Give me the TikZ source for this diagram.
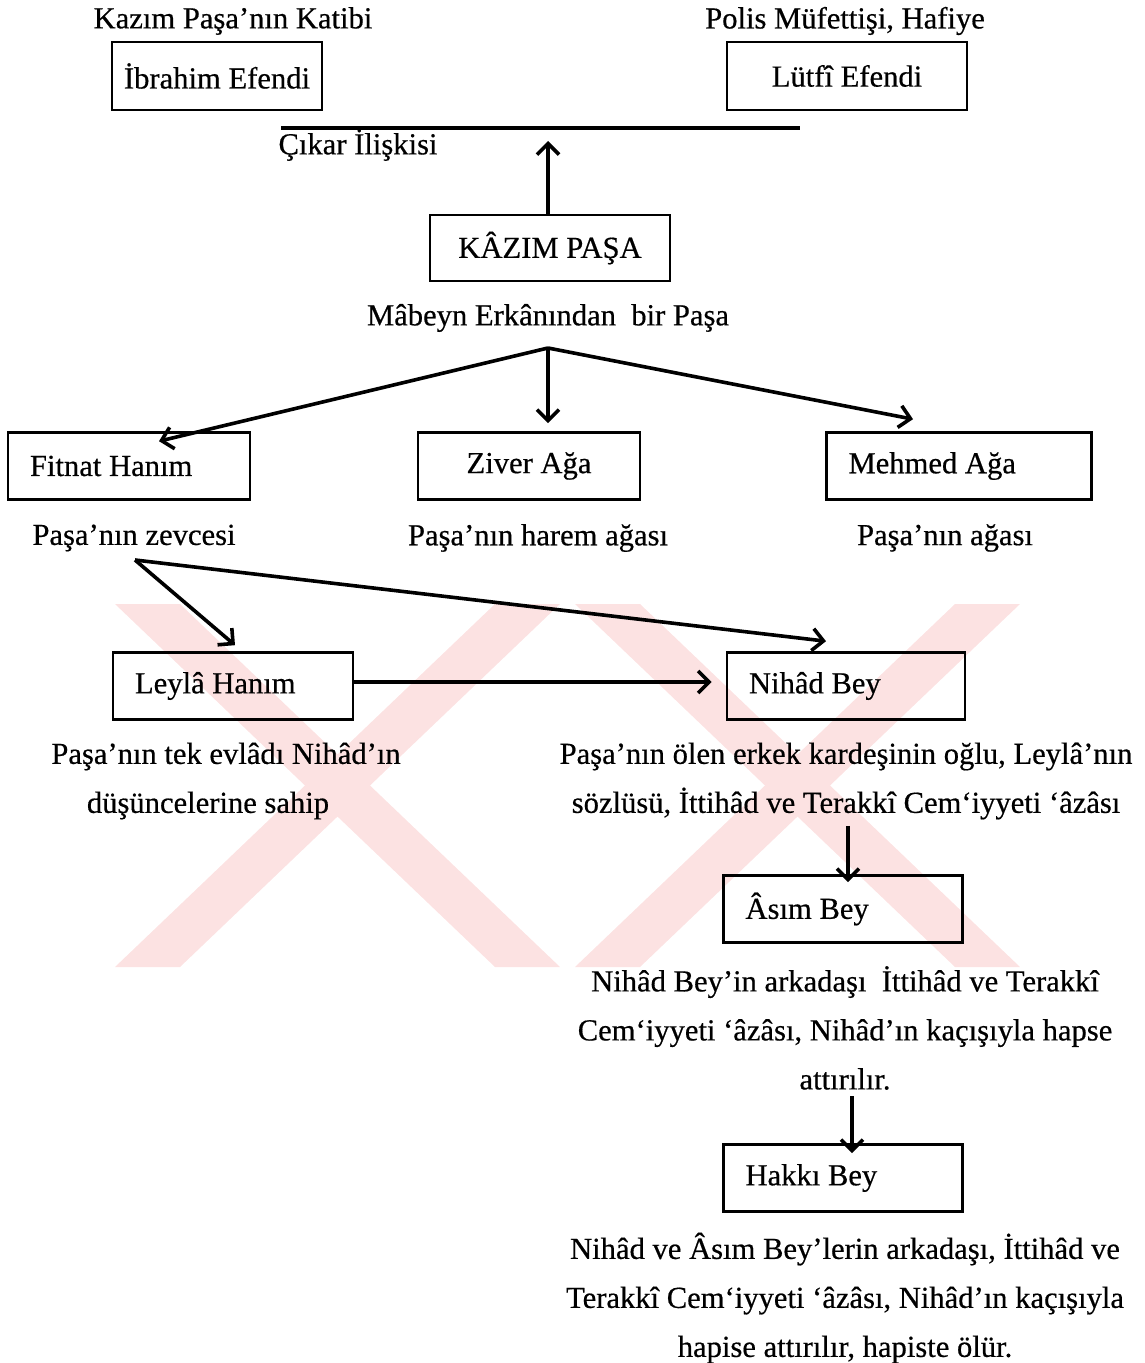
\documentclass[tikz,border=0pt]{standalone}
\usepackage{fontspec}
\setmainfont{Liberation Serif}[FakeBold=0.5]
\usetikzlibrary{arrows.meta}
\definecolor{filigran}{RGB}{252,226,226}
\tikzset{
  kutu/.style={draw, line width=1.3pt, minimum height=33.5pt, inner ysep=0pt},
  ortakutu/.style={kutu, minimum width=#1},
  solkutu/.style={kutu, inner xsep=11pt},
  yazi/.style={inner sep=3pt, align=center},
  ok/.style={line width=1.8pt, -{Straight Barb[length=5.5pt,width=11pt]}},
}
\newcommand{\solyazi}[2]{\makebox[#1][l]{#2}}
\begin{document}
\begin{tikzpicture}[x=0.5pt, y=-0.5pt, font=\fontsize{15.3}{24.5}\selectfont]
  \useasboundingbox (0,0) rectangle (1144,1363);
  % filigran
  \foreach \dx in {0,460} {
    \fill[filigran] (115+\dx,604) -- (180+\dx,604) -- (560+\dx,967) -- (495+\dx,967) -- cycle;
    \fill[filigran] (495+\dx,604) -- (560+\dx,604) -- (180+\dx,967) -- (115+\dx,967) -- cycle;
  }

  % ust sira
  \node[yazi] (katibi) at (233, 21) {Kazım Paşa’nın Katibi};
  \node[ortakutu=105pt, minimum height=34pt] (ibrahim) at (217, 76) {İbrahim Efendi};
  \node[yazi] (hafiye) at (845, 21) {Polis Müfettişi, Hafiye};
  \node[ortakutu=120pt, minimum height=34pt] (lutfi) at (847, 76) {Lütfî Efendi};
  \coordinate (cikarsol) at (281, 128);
  \coordinate (cikarsag) at (800, 128);
  \coordinate (cikar) at (548, 141);
  \draw[line width=1.6pt] (cikarsol) -- (cikarsag);
  \node[yazi] (iliski) at (358, 145) {Çıkar İlişkisi};

  % pasa
  \node[ortakutu=120pt, minimum height=33pt] (kazim) at (550, 248) {KÂZIM PAŞA};
  \node[yazi] (mabeyn) at (548, 318) {Mâbeyn Erkânından\ \ bir Paşa};
  \draw[ok] (cikar |- kazim.north) -- (cikar);

  % hane halki
  \coordinate (dal) at (548, 348);
  \node[solkutu] (fitnat) at (129, 466) {\solyazi{99pt}{Fitnat Hanım}};
  \node[ortakutu=111pt, minimum height=33.5pt] (ziver) at (529, 466) {Ziver Ağa};
  \node[solkutu] (mehmed) at (959, 466) {\solyazi{110.5pt}{Mehmed Ağa}};
  \node[yazi] (zevce) at (134, 538) {Paşa’nın zevcesi};
  \node[yazi] (harem) at (538, 538) {Paşa’nın harem ağası};
  \node[yazi] (aga) at (945, 538) {Paşa’nın ağası};
  \draw[ok] (dal) -- ([xshift=15pt, yshift=-5pt]fitnat.north);
  \draw[ok] (dal) -- ([yshift=4pt]dal |- ziver.north);
  \draw[ok] (dal) -- ([xshift=-23pt, yshift=6pt]mehmed.north);

  % cocuklar
  \coordinate (catal) at (135, 560);
  \node[solkutu] (leyla) at (233, 686) {\solyazi{98pt}{Leylâ Hanım}};
  \node[solkutu] (nihad) at (846, 686) {\solyazi{97pt}{Nihâd Bey}};
  \node[yazi] (leylaacik) at (226, 781) {Paşa’nın tek evlâdı Nihâd’ın\\düşüncelerine sahip\hspace*{18pt}};
  \node[yazi] (nihadacik) at (846, 781) {Paşa’nın ölen erkek kardeşinin oğlu, Leylâ’nın\\sözlüsü, İttihâd ve Terakkî Cem‘iyyeti ‘âzâsı};
  \draw[ok] (catal) -- ([xshift=1pt, yshift=3pt]leyla.north);
  \draw[ok] (catal) -- ([xshift=-10pt, yshift=5pt]nihad.north);
  \draw[ok] ([yshift=2pt]leyla.east) -- ([xshift=-7pt, yshift=2pt]nihad.west);

  % arkadaslar
  \node[solkutu] (asim) at (843, 909) {\solyazi{97.5pt}{Âsım Bey}};
  \node[yazi] (asimacik) at (845, 1028) {Nihâd Bey’in arkadaşı\ \ İttihâd ve Terakkî\\Cem‘iyyeti ‘âzâsı, Nihâd’ın kaçışıyla hapse\\attırılır.};
  \node[solkutu] (hakki) at (843, 1178) {\solyazi{97.5pt}{Hakkı Bey}};
  \node[yazi] (hakkiacik) at (845, 1298) {Nihâd ve Âsım Bey’lerin arkadaşı, İttihâd ve\\Terakkî Cem‘iyyeti ‘âzâsı, Nihâd’ın kaçışıyla\\hapise attırılır, hapiste ölür.};
  \draw[ok] ([xshift=1pt]nihadacik.south) -- ([xshift=1pt, yshift=-4pt]nihadacik.south |- asim.north);
  \draw[ok] ([xshift=3.5pt]asimacik.south) -- ([xshift=3.5pt, yshift=-5pt]asimacik.south |- hakki.north);
\end{tikzpicture}
\end{document}
